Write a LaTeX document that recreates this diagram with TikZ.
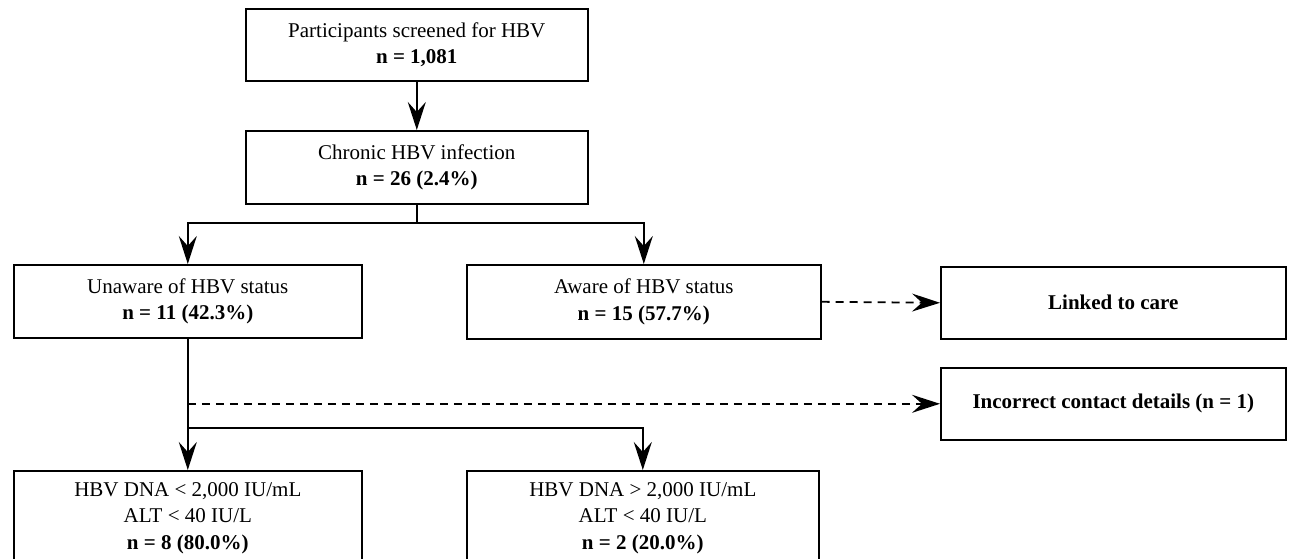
\documentclass[tikz,border=0pt]{standalone}
\usepackage{fontspec}
\setmainfont{Liberation Serif}
\usetikzlibrary{arrows.meta}
\begin{document}
\begin{tikzpicture}[x=1pt,y=-1pt,
  box/.style={draw=black, line width=1.6pt, inner sep=0pt, align=center,
    font=\fontsize{21}{26.5}\selectfont, anchor=north west},
  link/.style={draw=black, line width=1.8pt},
  arr/.style={link, -{Stealth[length=28pt,width=18pt,inset=10pt]}},
  darr/.style={arr, dash pattern=on 8pt off 6pt}]
\useasboundingbox (0,0) rectangle (1291,559);
\clip (0,0) rectangle (1291,559);
\node[box, minimum width=342pt, minimum height=72pt] (b1) at (245,8)
  {Participants screened for HBV\\\textbf{n = 1,081}};
\node[box, minimum width=342pt, minimum height=73pt] (b2) at (245,130)
  {Chronic HBV infection\\\textbf{n = 26 (2.4\%)}};
\node[box, minimum width=348pt, minimum height=73pt] (b3) at (13,264)
  {Unaware of HBV status\\\textbf{n = 11 (42.3\%)}};
\node[box, minimum width=354pt, minimum height=74pt] (b4) at (466,264)
  {Aware of HBV status\\\textbf{n = 15 (57.7\%)}};
\node[box, minimum width=345pt, minimum height=72pt] (b5) at (940,266)
  {\textbf{Linked to care}};
\node[box, minimum width=345pt, minimum height=72pt] (b6) at (940,367)
  {\textbf{Incorrect contact details (n = 1)}};
\node[box, minimum width=348pt, minimum height=94pt] (b7) at (13,470)
  {HBV DNA < 2,000 IU/mL\\ALT < 40 IU/L\\\textbf{n = 8 (80.0\%)}};
\node[box, minimum width=352pt, minimum height=94pt] (b8) at (466,470)
  {HBV DNA > 2,000 IU/mL\\ALT < 40 IU/L\\\textbf{n = 2 (20.0\%)}};
\coordinate (j1) at (b2.south |- 0,223);
\coordinate (j2) at (b3.south |- 0,428);
\draw[arr] (b1.south) -- (b2.north);
\draw[link] (b2.south) -- (j1);
\draw[arr] (j1) -| (b3.north);
\draw[arr] (j1) -| (b4.north);
\draw[arr] (b3.south) -- (b7.north);
\draw[arr] (j2) -| (b8.north);
\draw[darr] (b3.south |- b6.west) -- (b6.west);
\draw[darr] (b4.east) -- (b5.west);
\end{tikzpicture}
\end{document}
